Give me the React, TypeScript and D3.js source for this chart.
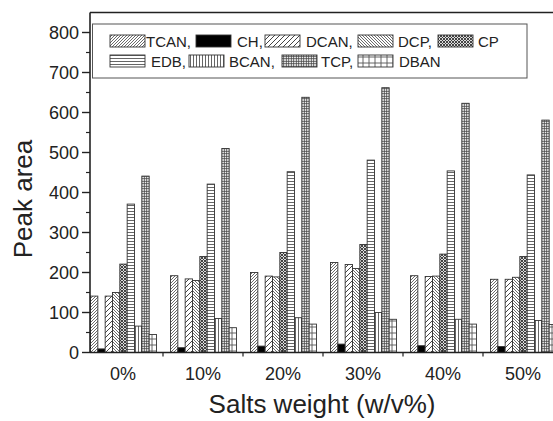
import React from 'react';
import * as d3 from 'd3';

const categories = ['0%', '10%', '20%', '30%', '40%', '50%'];
const seriesNames = ['TCAN', 'CH', 'DCAN', 'DCP', 'CP', 'EDB', 'BCAN', 'TCP', 'DBAN'];

const tcan = [141, 192, 200, 225, 192, 183];
const ch = [9, 12, 16, 21, 17, 15];
const dcan = [141, 184, 191, 220, 190, 183];
const dcp = [150, 180, 189, 210, 191, 188];
const cp = [221, 240, 250, 270, 246, 240];
const edb = [371, 421, 452, 481, 454, 444];
const bcan = [66, 85, 87, 100, 83, 80];
const tcp = [441, 510, 638, 662, 623, 581];
const dban = [45, 62, 71, 83, 71, 70];

const seriesValues = [tcan, ch, dcan, dcp, cp, edb, bcan, tcp, dban];
const yTicks = [0, 100, 200, 300, 400, 500, 600, 700, 800];

const WIDTH = 553;
const HEIGHT = 421;
const FONT = '"Liberation Sans", Arial, sans-serif';
const INK = '#222';

// legend rows, as in the original figure (two lines)
const legendRows = [
  {names: ['TCAN', 'CH', 'DCAN', 'DCP', 'CP'], swatchX: [110, 196, 265, 358, 438], textX: [146, 237, 306, 398, 478], y: 35},
  {names: ['EDB', 'BCAN', 'TCP', 'DBAN'], swatchX: [110, 189, 282, 358], textX: [151, 229, 321, 399], y: 55}
];

function Patterns() {
  const line = '#444';
  return (
    <defs>
      <pattern id="p-TCAN" width="3" height="3" patternUnits="userSpaceOnUse">
        <rect width="3" height="3" fill="#fff"/>
        <path d="M-1,1 L1,-1 M0,3 L3,0 M2,4 L4,2" stroke={line} strokeWidth="0.8"/>
      </pattern>
      <pattern id="p-CH" width="4" height="4" patternUnits="userSpaceOnUse">
        <rect width="4" height="4" fill="#000"/>
      </pattern>
      <pattern id="p-DCAN" width="5" height="5" patternUnits="userSpaceOnUse">
        <rect width="5" height="5" fill="#fff"/>
        <path d="M-1,1 L1,-1 M0,5 L5,0 M4,6 L6,4" stroke={line} strokeWidth="1"/>
      </pattern>
      <pattern id="p-DCP" width="3" height="3" patternUnits="userSpaceOnUse">
        <rect width="3" height="3" fill="#fff"/>
        <path d="M-1,2 L1,4 M0,0 L3,3 M2,-1 L4,1" stroke={line} strokeWidth="0.8"/>
      </pattern>
      <pattern id="p-CP" width="3" height="3" patternUnits="userSpaceOnUse">
        <rect width="3" height="3" fill="#ddd"/>
        <path d="M0,0 L3,3 M0,3 L3,0" stroke="#333" strokeWidth="0.9"/>
      </pattern>
      <pattern id="p-EDB" width="3" height="3" patternUnits="userSpaceOnUse">
        <rect width="3" height="3" fill="#fff"/>
        <path d="M0,1.5 L3,1.5" stroke="#555" strokeWidth="0.9"/>
      </pattern>
      <pattern id="p-BCAN" width="3" height="3" patternUnits="userSpaceOnUse">
        <rect width="3" height="3" fill="#fff"/>
        <path d="M1.5,0 L1.5,3" stroke="#555" strokeWidth="0.9"/>
      </pattern>
      <pattern id="p-TCP" width="2.5" height="2.5" patternUnits="userSpaceOnUse">
        <rect width="2.5" height="2.5" fill="#eee"/>
        <path d="M0,1.25 L2.5,1.25 M1.25,0 L1.25,2.5" stroke="#444" strokeWidth="0.8"/>
      </pattern>
      <pattern id="p-DBAN" width="6" height="6" patternUnits="userSpaceOnUse">
        <rect width="6" height="6" fill="#fff"/>
        <path d="M0,3 L6,3 M3,0 L3,6" stroke="#555" strokeWidth="0.9"/>
      </pattern>
    </defs>
  );
}

export default function App() {
  const x0 = d3.scaleBand<string>().domain(categories).range([83, 563]).padding(0);
  const x1 = d3.scaleBand<string>().domain(seriesNames).range([7.5, 73.5]).padding(0);
  const y = d3.scaleLinear().domain([0, 850]).range([352.5, 12.5]);

  const minorTicks = d3.range(50, 850, 100);
  const left = 90;
  const bottom = y(0);

  return (
    <svg width={WIDTH} height={HEIGHT} style={{position: 'fixed', left: 0, top: 0, background: '#fff'}}
      fontFamily={FONT}>
      <Patterns/>
      <rect width={WIDTH} height={HEIGHT} fill="#fff"/>

      {/* bars */}
      {categories.map((cat, ci) => (
        <g key={cat} transform={`translate(${x0(cat)},0)`}>
          {seriesNames.map((name, si) => {
            const v = seriesValues[si][ci];
            return (
              <rect key={name} x={x1(name)} y={y(v)} width={x1.bandwidth()}
                height={bottom - y(v)} fill={`url(#p-${name})`}
                stroke="#333" strokeWidth="0.9"/>
            );
          })}
        </g>
      ))}

      {/* frame */}
      <line x1={left} x2={WIDTH} y1={y(850)} y2={y(850)} stroke={INK} strokeWidth="1.6"/>
      <line x1={left} x2={left} y1={y(850)} y2={bottom} stroke={INK} strokeWidth="1.6"/>
      <line x1={left} x2={WIDTH} y1={bottom} y2={bottom} stroke={INK} strokeWidth="1.6"/>

      {/* y axis */}
      {yTicks.map(t => (
        <g key={t}>
          <line x1={left - 8} x2={left} y1={y(t)} y2={y(t)} stroke={INK} strokeWidth="1.4"/>
          <text x={left - 11} y={y(t)} dy="0.35em" textAnchor="end" fontSize="18" fill={INK}>{t}</text>
        </g>
      ))}
      {minorTicks.map(t => (
        <line key={t} x1={left - 4} x2={left} y1={y(t)} y2={y(t)} stroke={INK} strokeWidth="1.2"/>
      ))}

      {/* x axis */}
      {categories.map(cat => {
        const c = (x0(cat) as number) + x0.bandwidth() / 2;
        const edge = (x0(cat) as number) + x0.bandwidth();
        return (
          <g key={cat}>
            <line x1={c} x2={c} y1={bottom} y2={bottom - 4} stroke={INK} strokeWidth="1.2"/>
            <line x1={edge} x2={edge} y1={bottom} y2={bottom + 4} stroke={INK} strokeWidth="1.2"/>
            <text x={c} y={380} textAnchor="middle" fontSize="18" fill={INK}>{cat}</text>
          </g>
        );
      })}

      {/* axis titles */}
      <text transform="translate(32,199) rotate(-90)" textAnchor="middle" fontSize="26" fill={INK}>Peak area</text>
      <text x={322} y={413} textAnchor="middle" fontSize="26" fill={INK}>Salts weight (w/v%)</text>

      {/* legend */}
      <rect x={92.5} y={24} width={434.5} height={54} fill="#fff" stroke="#555" strokeWidth="1"/>
      {legendRows.map(row => row.names.map((name, i) => (
        <g key={name}>
          <rect x={row.swatchX[i]} y={row.y} width={35} height={12} fill={`url(#p-${name})`}
            stroke="#333" strokeWidth="0.9"/>
          <text x={row.textX[i]} y={row.y + 11.5} fontSize="15" fill={INK}>
            {name + (name === 'CP' || name === 'DBAN' ? '' : ',')}
          </text>
        </g>
      )))}
    </svg>
  );
}
